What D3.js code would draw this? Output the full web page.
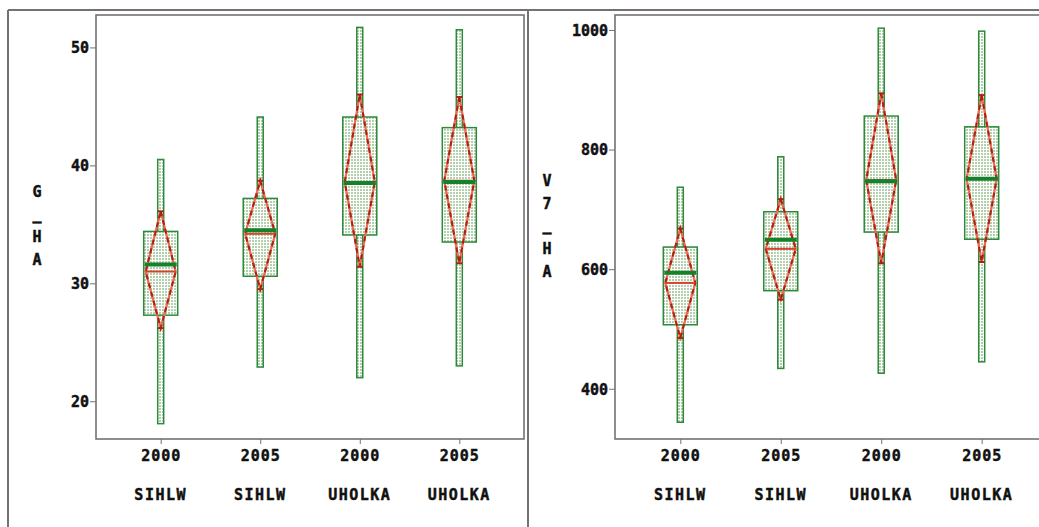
<!DOCTYPE html>
<html>
<head>
<meta charset="utf-8">
<script src="https://cdn.jsdelivr.net/npm/d3@7"></script>
<style>
  body { margin: 0; background: #fff; }
  svg { display: block; }
  .lbl { font-family: "DejaVu Sans Mono", monospace; font-weight: bold; fill: #111; stroke: #111; stroke-width: 0.45px; }
</style>
</head>
<body>
<div class="chart"></div>
<script>
// categories
var years = ["2000", "2005", "2000", "2005"];
var stands = ["SIHLW", "SIHLW", "UHOLKA", "UHOLKA"];

// G_HA panel
var gMin  = [18.1, 22.9, 22.0, 23.0];
var gQ1   = [27.3, 30.6, 34.1, 33.5];
var gMed  = [31.6, 34.5, 38.5, 38.6];
var gQ3   = [34.4, 37.2, 44.1, 43.2];
var gMax  = [40.5, 44.1, 51.7, 51.5];
var gMean = [31.0, 34.2, 38.6, 38.7];
var gLo   = [26.2, 29.5, 31.4, 31.7];
var gHi   = [36.1, 38.7, 46.0, 45.8];
var gTicks = [20, 30, 40, 50];

// V7_HA panel
var vMin  = [344, 434, 426, 445];
var vQ1   = [507, 564, 662, 650];
var vMed  = [594, 649, 747, 751];
var vQ3   = [637, 696, 856, 838];
var vMax  = [737, 788, 1003, 998];
var vMean = [577, 634, 749, 751];
var vLo   = [485, 549, 610, 612];
var vHi   = [668, 717, 894, 891];
var vTicks = [400, 600, 800, 1000];

var W = 1039, H = 527;
var svg = d3.select(".chart").append("svg").attr("width", W).attr("height", H);

// grid texture for the boxes
var pat = svg.append("defs").append("pattern")
    .attr("id", "grid").attr("patternUnits", "userSpaceOnUse")
    .attr("width", 3).attr("height", 3);
pat.append("rect").attr("width", 3).attr("height", 3).attr("fill", "#fff");
pat.append("rect").attr("width", 2).attr("height", 2).attr("fill", "#b3cfab");

var frameCol = "#757075";

// outer frames
svg.append("line").attr("x1", 8).attr("x2", W).attr("y1", 10).attr("y2", 10)
    .attr("stroke", frameCol).attr("stroke-width", 2);
svg.append("line").attr("x1", 8).attr("x2", 8).attr("y1", 10).attr("y2", H)
    .attr("stroke", frameCol).attr("stroke-width", 2);
svg.append("line").attr("x1", 528).attr("x2", 528).attr("y1", 10).attr("y2", H)
    .attr("stroke", frameCol).attr("stroke-width", 2);

function panel(p) {
  var x = d3.scalePoint().domain(d3.range(4)).range([p.x0, p.x1]).padding(0.65);
  var y = d3.scaleLinear().domain(p.dom).range([p.y1, p.y0]);
  var g = svg.append("g");

  g.append("rect").attr("x", p.x0).attr("y", p.y0)
      .attr("width", p.x1 - p.x0).attr("height", p.y1 - p.y0)
      .attr("fill", "none").attr("stroke", frameCol).attr("stroke-width", 1.6);

  // y axis
  var ya = g.append("g").attr("transform", "translate(" + p.x0 + ",0)")
      .call(d3.axisLeft(y).tickValues(p.ticks).tickSize(6).tickPadding(1).tickFormat(d3.format("d")));
  ya.select(".domain").remove();
  ya.selectAll("line").attr("stroke", frameCol);
  ya.selectAll("text").attr("class", "lbl").style("font-size", "15px").attr("dy", "0.35em");

  // x axis
  var xa = g.append("g").attr("transform", "translate(0," + p.y1 + ")")
      .call(d3.axisBottom(x).tickSize(5).tickPadding(6).tickFormat(function(i) { return years[i]; }));
  xa.select(".domain").remove();
  xa.selectAll("line").attr("stroke", frameCol);
  xa.selectAll("text").attr("class", "lbl").style("font-size", "15px").attr("letter-spacing", 1);

  g.selectAll(".stand").data(d3.range(4)).enter().append("text")
      .attr("class", "lbl").attr("x", function(i) { return x(i); }).attr("y", 500)
      .attr("text-anchor", "middle").style("font-size", "15px").attr("letter-spacing", 1.5)
      .text(function(i) { return stands[i]; });

  // vertical axis title, one upright letter per row
  g.selectAll(".ttl").data(p.title.split("")).enter().append("text")
      .attr("class", "lbl").attr("x", p.tx).attr("y", function(d, i) { return p.ty + i * 22.7; })
      .attr("text-anchor", "middle").style("font-size", "15px")
      .text(function(d) { return d; });

  var bw = 34, ww = 6, dw = 30;
  var box = g.selectAll(".box").data(d3.range(4)).enter().append("g");

  // whisker bar
  box.append("rect")
      .attr("x", function(i) { return x(i) - ww / 2; })
      .attr("y", function(i) { return y(p.max[i]); })
      .attr("width", ww)
      .attr("height", function(i) { return y(p.min[i]) - y(p.max[i]); })
      .attr("fill", "url(#grid)").attr("stroke", "#2c8a3a").attr("stroke-width", 1.5);

  // quartile box
  box.append("rect")
      .attr("x", function(i) { return x(i) - bw / 2; })
      .attr("y", function(i) { return y(p.q3[i]); })
      .attr("width", bw)
      .attr("height", function(i) { return y(p.q1[i]) - y(p.q3[i]); })
      .attr("fill", "url(#grid)").attr("stroke", "#2c8a3a").attr("stroke-width", 1.5);

  // mean diamond
  function dpath(i) {
    var cx = x(i), m = y(p.mean[i]);
    return "M" + cx + "," + y(p.hi[i]) + "L" + (cx + dw / 2) + "," + m +
           "L" + cx + "," + y(p.lo[i]) + "L" + (cx - dw / 2) + "," + m + "Z";
  }
  box.append("path").attr("d", dpath)
      .attr("fill", "none").attr("stroke", "#ec6a58").attr("stroke-width", 2.2);
  box.append("path").attr("d", dpath)
      .attr("fill", "none").attr("stroke", "#b0200f").attr("stroke-width", 2)
      .attr("stroke-dasharray", "5,4");

  // mean line
  box.append("line")
      .attr("x1", function(i) { return x(i) - dw / 2; })
      .attr("x2", function(i) { return x(i) + dw / 2; })
      .attr("y1", function(i) { return y(p.mean[i]); })
      .attr("y2", function(i) { return y(p.mean[i]); })
      .attr("stroke", "#d8402e").attr("stroke-width", 2);

  // median, on top
  box.append("line")
      .attr("x1", function(i) { return x(i) - bw / 2 + 1; })
      .attr("x2", function(i) { return x(i) + bw / 2 - 1; })
      .attr("y1", function(i) { return y(p.med[i]); })
      .attr("y2", function(i) { return y(p.med[i]); })
      .attr("stroke", "#17802a").attr("stroke-width", 4);

  // small tips at diamond ends
  [p.hi, p.lo].forEach(function(arr) {
    box.append("line")
        .attr("x1", function(i) { return x(i) - 3; })
        .attr("x2", function(i) { return x(i) + 3; })
        .attr("y1", function(i) { return y(arr[i]); })
        .attr("y2", function(i) { return y(arr[i]); })
        .attr("stroke", "#b0200f").attr("stroke-width", 2);
  });
}

panel({x0: 96, x1: 524, y0: 15, y1: 439, dom: [16.8, 52.75], ticks: gTicks,
       min: gMin, q1: gQ1, med: gMed, q3: gQ3, max: gMax, mean: gMean, lo: gLo, hi: gHi,
       title: "G_HA", tx: 37, ty: 197});

panel({x0: 615, x1: 1047, y0: 15, y1: 439, dom: [316, 1025], ticks: vTicks,
       min: vMin, q1: vQ1, med: vMed, q3: vQ3, max: vMax, mean: vMean, lo: vLo, hi: vHi,
       title: "V7_HA", tx: 547, ty: 186});
</script>
</body>
</html>
